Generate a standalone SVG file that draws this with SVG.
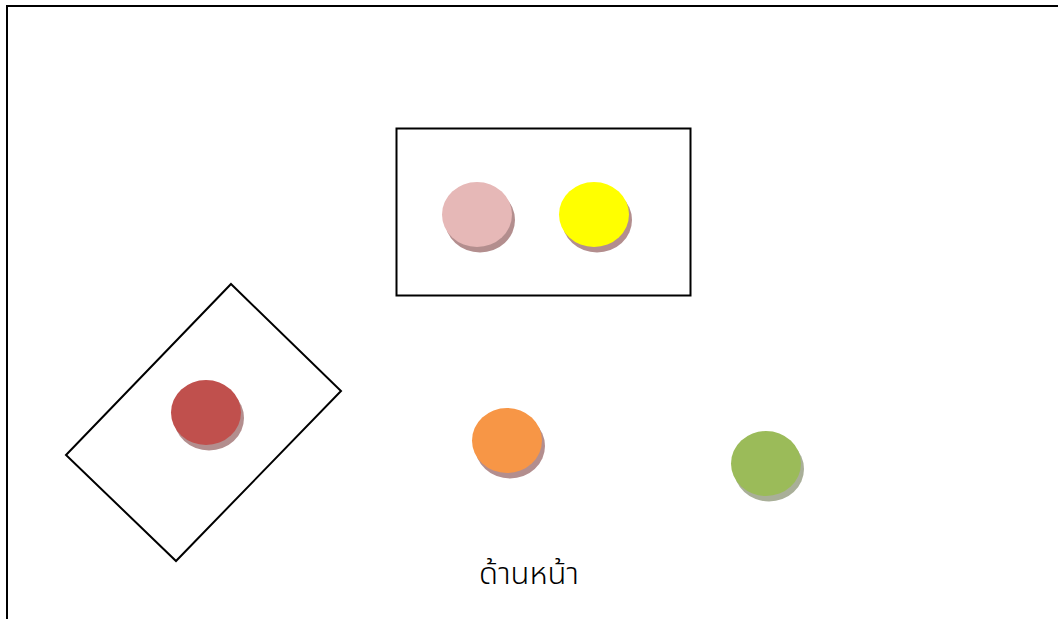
<svg xmlns="http://www.w3.org/2000/svg" width="1058" height="619" viewBox="0 0 1058 619">
  <style>
    .frame { fill: none; stroke: #000; stroke-width: 2; }
    .box { fill: none; stroke: #000; stroke-width: 2; }
    .shadow { fill: #b38e8e; }
    .label { font-family: "Noto Sans Thai", "Noto Sans", "DejaVu Sans", sans-serif; font-size: 31px; font-weight: 300; fill: #000; }
  </style>
  <rect width="1058" height="619" fill="#fff"/>
  <g id="frame">
    <polyline class="frame" points="7,619 7,6 1058,6"/>
  </g>
  <g id="box-top">
    <rect class="box" x="396.5" y="128.5" width="294" height="167"/>
  </g>
  <g id="box-rotated">
    <polygon class="box" points="231,284 341,391 176,561 66,455"/>
  </g>
  <g id="dot-pink">
    <ellipse class="shadow" cx="480" cy="220" rx="35" ry="32.5"/>
    <ellipse cx="477" cy="214.5" rx="35" ry="32.5" fill="#e6b8b7"/>
  </g>
  <g id="dot-yellow">
    <ellipse class="shadow" cx="597" cy="220" rx="35" ry="32.5"/>
    <ellipse cx="594" cy="214.5" rx="35" ry="32.5" fill="#ffff00"/>
  </g>
  <g id="dot-red">
    <ellipse class="shadow" cx="209" cy="418" rx="35" ry="32.5"/>
    <ellipse cx="206" cy="412.5" rx="35" ry="32.5" fill="#c0504d"/>
  </g>
  <g id="dot-orange">
    <ellipse class="shadow" cx="510" cy="446" rx="35" ry="32.5"/>
    <ellipse cx="507" cy="440.5" rx="35" ry="32.5" fill="#f79646"/>
  </g>
  <g id="dot-green">
    <ellipse cx="769" cy="469" rx="35" ry="32.5" fill="#a9af98"/>
    <ellipse cx="766" cy="463.5" rx="35" ry="32.5" fill="#9bbb59"/>
  </g>
  <g id="label">
    <text class="label" x="529" y="584" text-anchor="middle">ด้านหน้า</text>
  </g>
</svg>
